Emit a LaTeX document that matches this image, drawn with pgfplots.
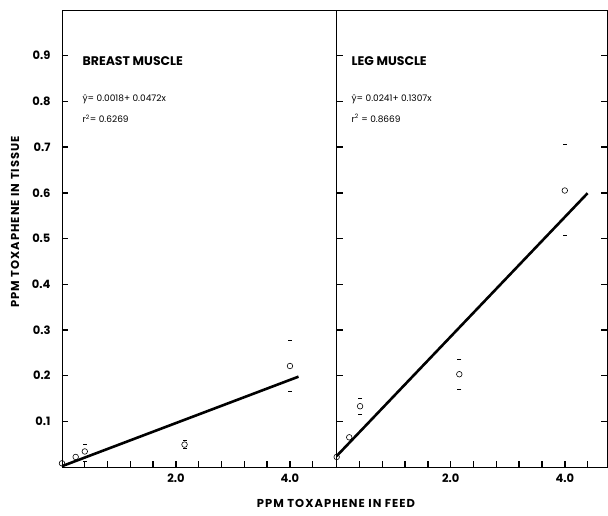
\documentclass[border=0pt]{standalone}
\usepackage{pgfplots}
\pgfplotsset{compat=1.18}
\usepackage{fontspec}
\setmainfont{Poppins}
\newfontfamily\lblfont[LetterSpace=9]{Poppins}
\tikzset{
  ttl/.style={anchor=west, font=\fontsize{12.5}{14}\selectfont\bfseries},
  eqn/.style={anchor=west, font=\fontsize{9}{10}\selectfont},
}
\pgfplotsset{
  common/.style={
    scale only axis, height=457pt, ymin=0, ymax=1.0,
    axis line style={line width=0.9pt},
    xtick={2,4}, minor xtick={0.4,0.8,1.2,1.6,2.4,2.8,3.2,3.6,4.4},
    ytick={0.1,0.2,0.3,0.4,0.5,0.6,0.7,0.8,0.9},
    tick align=inside,
    major tick length=6pt, minor tick length=6pt,
    every tick/.append style={black, line width=1.4pt},
    every minor tick/.append style={black, line width=1.4pt},
    /pgf/number format/assume math mode=true,
    xticklabel style={font=\fontsize{11.5}{13}\selectfont\bfseries, yshift=-3pt,
      /pgf/number format/fixed, /pgf/number format/fixed zerofill, /pgf/number format/precision=1},
    yticklabel style={font=\fontsize{11.5}{13}\selectfont\bfseries, xshift=-8pt,
      /pgf/number format/fixed, /pgf/number format/fixed zerofill, /pgf/number format/precision=1},
  },
  dpt/.style={only marks, mark=o, mark size=2.8pt, mark options={line width=0.6pt, black}},
  cap/.style={only marks, mark=-, mark size=2pt, mark options={line width=0.8pt, black}},
  fit/.style={black, line width=2.6pt, no marks},
}
\begin{document}
\begin{tikzpicture}
\path (-62pt,-48pt) rectangle (546pt,467pt);
% Left panel: breast muscle
\begin{axis}[common, at={(0pt,0pt)}, anchor=south west, width=274.7pt,
  xmin=0, xmax=4.82, ytick pos=left, xtick pos=left, clip=false]
  \addplot[fit] coordinates {(0,0.0018) (4.15,0.1977)};
  \addplot[dpt] coordinates {(0,0.008) (0.24,0.022) (0.40,0.034) (2.15,0.049) (4.0,0.221)};
  \addplot[cap] coordinates {(0.40,0.050) (0.40,0.012) (2.15,0.058) (2.15,0.040) (4.0,0.277) (4.0,0.166)};
  \node[ttl] at (axis cs:0.30,0.888) {BREAST MUSCLE};
  \node[eqn] at (axis cs:0.30,0.805) {ŷ= 0.0018+ 0.0472x};
  \node[eqn] at (axis cs:0.30,0.762) {r\textsuperscript{2}= 0.6269};
\end{axis}
% Right panel: leg muscle
\begin{axis}[common, at={(274.7pt,0pt)}, anchor=south west, width=270.3pt,
  xmin=0, xmax=4.74, ytick pos=both, xtick pos=left, yticklabels={}, clip=false]
  \addplot[fit] coordinates {(0,0.0241) (4.4,0.5992)};
  \addplot[dpt] coordinates {(0,0.022) (0.22,0.065) (0.41,0.133) (2.15,0.203) (4.0,0.605)};
  \addplot[cap] coordinates {(0.41,0.150) (0.41,0.115) (2.15,0.235) (2.15,0.169) (4.0,0.705) (4.0,0.507)};
  \node[ttl] at (axis cs:0.20,0.888) {LEG MUSCLE};
  \node[eqn] at (axis cs:0.20,0.805) {ŷ= 0.0241+ 0.1307x};
  \node[eqn] at (axis cs:0.20,0.762) {r\textsuperscript{2} = 0.8669};
\end{axis}
\node[rotate=90, font=\lblfont\fontsize{11.5}{13}\selectfont\bfseries] at (-47pt,245pt) {PPM TOXAPHENE IN TISSUE};
\node[font=\lblfont\fontsize{11.5}{13}\selectfont\bfseries] at (274pt,-36pt) {PPM TOXAPHENE IN FEED};
\end{tikzpicture}
\end{document}
